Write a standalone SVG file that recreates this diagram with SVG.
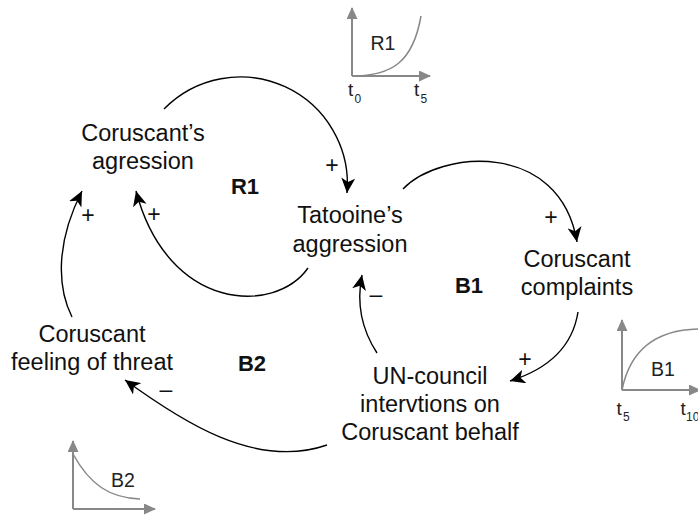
<svg xmlns="http://www.w3.org/2000/svg" width="698" height="518" viewBox="0 0 698 518">
<style>
.node{font-family:"Liberation Sans",Arial,sans-serif;font-size:23.5px;fill:#111;text-anchor:middle}
.loop{font-family:"Liberation Sans",Arial,sans-serif;font-size:22px;font-weight:bold;fill:#111;text-anchor:middle}
.sign{font-family:"Liberation Sans",Arial,sans-serif;font-size:23px;fill:#111;text-anchor:middle}
.conn{fill:none;stroke:#000;stroke-width:1.4;marker-end:url(#arr)}
.axis{fill:none;stroke:#888;stroke-width:2;marker-end:url(#garr)}
.curve{fill:none;stroke:#888;stroke-width:1.5}
.ctext{font-family:"Liberation Sans",Arial,sans-serif;font-size:19.5px;fill:#222;text-anchor:middle}
.tl{font-family:"Liberation Sans",Arial,sans-serif;font-size:19px;fill:#222}
.sub{font-family:"Liberation Sans",Arial,sans-serif;font-size:12px;fill:#222}
</style>
<defs>
<marker id="arr" markerUnits="userSpaceOnUse" markerWidth="16" markerHeight="14" viewBox="0 0 16 14" refX="15" refY="7" orient="auto"><path d="M0,0 L15,7 L0,14 L4,7 z" fill="#000"/></marker>
<marker id="garr" markerUnits="userSpaceOnUse" markerWidth="12" markerHeight="11" viewBox="0 0 12 11" refX="11" refY="5.5" orient="auto"><path d="M0,0 L12,5.5 L0,11 z" fill="#888"/></marker>
</defs>
<rect width="698" height="518" fill="#fff"/>

<g id="connectors">
<path class="conn" d="M164,109 A107,107 0 0 1 347,193"/>
<path class="conn" d="M403,189 C440,150 560,140 577,242"/>
<path class="conn" d="M578,312 C572,350 545,370 510,381"/>
<path class="conn" d="M308,268 C275,315 168,312 136,191"/>
<path class="conn" d="M72,317 C56,285 57,240 82,191"/>
<path class="conn" d="M377,353 C362,330 356,305 362,275"/>
<path class="conn" d="M327,445 C255,470 180,420 125,380"/>
</g>

<g id="signs">
<text class="sign" x="332" y="173">+</text>
<text class="sign" x="88" y="223">+</text>
<text class="sign" x="154" y="222">+</text>
<text class="sign" x="551" y="225">+</text>
<text class="sign" x="525" y="367">+</text>
<text class="sign" x="376" y="302">–</text>
<text class="sign" x="166" y="397">–</text>
</g>

<g id="n-coruscant-agression">
<text class="node" x="143" y="141">Coruscant’s</text>
<text class="node" x="143" y="169">agression</text>
</g>
<g id="n-tatooine">
<text class="node" x="350" y="222.5">Tatooine’s</text>
<text class="node" x="350" y="251.5">aggression</text>
</g>
<g id="n-complaints">
<text class="node" x="577" y="267">Coruscant</text>
<text class="node" x="577" y="295">complaints</text>
</g>
<g id="n-un">
<text class="node" x="430" y="383.5">UN-council</text>
<text class="node" x="430" y="412">intervtions on</text>
<text class="node" x="430" y="440">Coruscant behalf</text>
</g>
<g id="n-threat">
<text class="node" x="92" y="342">Coruscant</text>
<text class="node" x="92" y="370">feeling of threat</text>
</g>

<g id="loops">
<text class="loop" x="245" y="194">R1</text>
<text class="loop" x="469" y="293">B1</text>
<text class="loop" x="252" y="371">B2</text>
</g>

<g id="chart-r1">
<line class="axis" x1="352" y1="76" x2="352" y2="8"/>
<line class="axis" x1="352" y1="76" x2="430" y2="76"/>
<path class="curve" d="M352,76 C392,76 413,62 421,16"/>
<text class="ctext" x="383" y="50">R1</text>
<text class="tl" x="348" y="96">t</text><text class="sub" x="354.5" y="103">0</text>
<text class="tl" x="414" y="96">t</text><text class="sub" x="420.5" y="103">5</text>
</g>

<g id="chart-b1">
<line class="axis" x1="622" y1="390" x2="622" y2="320"/>
<line class="axis" x1="622" y1="390" x2="700" y2="390"/>
<path class="curve" d="M622,390 C630,350 655,330 698,329"/>
<text class="ctext" x="663" y="376">B1</text>
<text class="tl" x="616.5" y="415">t</text><text class="sub" x="623" y="421">5</text>
<text class="tl" x="680.5" y="415">t</text><text class="sub" x="686" y="421" font-size="11">10</text>
</g>

<g id="chart-b2">
<line class="axis" x1="73" y1="509" x2="73" y2="441"/>
<line class="axis" x1="73" y1="509" x2="155" y2="509"/>
<path class="curve" d="M73,454 C90,485 110,498 140,499"/>
<text class="ctext" x="123" y="487">B2</text>
</g>
</svg>
